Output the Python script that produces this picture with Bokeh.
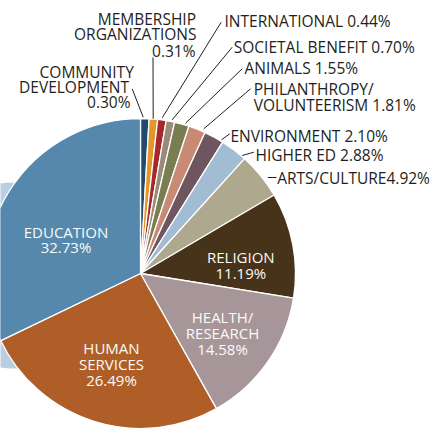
import math
from bokeh.plotting import figure
from bokeh.models import Range1d, ColumnDataSource
from bokeh.core.properties import value
from bokeh.embed import file_html
from bokeh.resources import INLINE

# ---- data (clockwise from 12 o'clock) ----
categories = ["COMMUNITY DEVELOPMENT", "MEMBERSHIP ORGANIZATIONS", "INTERNATIONAL",
              "SOCIETAL BENEFIT", "ANIMALS", "PHILANTHROPY/VOLUNTEERISM", "ENVIRONMENT",
              "HIGHER ED", "ARTS/CULTURE", "RELIGION", "HEALTH/RESEARCH",
              "HUMAN SERVICES", "EDUCATION"]
shares = [0.30, 0.31, 0.44, 0.70, 1.55, 1.81, 2.10, 2.88, 4.92, 11.19, 14.58, 26.49, 32.73]
colors = ["#1E4B6E", "#E5962A", "#A6282A", "#9A8B78", "#7A7D52", "#C88A74", "#6E5560",
          "#A2BDD3", "#ADA88E", "#47321A", "#A6969A", "#B05E27", "#5588AC"]

# ---- layout (reference pixel coords, y down) ----
W, H = 443, 430
def Y(yref):
    return H - yref

CX, CY, R = 140, Y(273), 155
MIN_SHARE = 0.9  # tiny slices are drawn with a minimum visible width

disp = [max(s, MIN_SHARE) for s in shares]
tot = sum(disp)
starts, ends = [], []
cum = 0.0
for d in disp:
    a_end = math.radians(90 - cum / tot * 360)
    cum += d
    a_start = math.radians(90 - cum / tot * 360)
    starts.append(a_start)
    ends.append(a_end)

p = figure(width=W, height=H, x_range=Range1d(0, W), y_range=Range1d(0, H),
           output_backend="svg", toolbar_location=None, min_border=0)
p.axis.visible = False
p.grid.visible = False
p.outline_line_color = None
p.background_fill_color = "white"

# decorative light blue shape behind the pie
p.circle(x=[13], y=[Y(275)], radius=93, fill_color="#B9CFE1", line_color=None)

src = ColumnDataSource(dict(start=starts, end=ends, color=colors, cat=categories))
p.wedge(x=CX, y=CY, radius=R, start_angle="start", end_angle="end",
        direction="anticlock", fill_color="color", line_color="white",
        line_width=1.3, source=src)

FONT = value("Open Sans")
DARK = "#231F20"

def pct(name):
    return f"{shares[categories.index(name)]:.2f}%"

def put(x, yc, txt, size, color, align):
    # yc is the visual centre of capitals (reference coords)
    fs = float(size.replace("px", ""))
    p.text(x=[x], y=[Y(yc + 0.357 * fs - 5.5)], text=[txt], text_font=FONT,
           text_font_size=size, text_color=color, text_align=align,
           text_baseline="alphabetic")

# inside labels
IN = "15px"
WH = "#FBFAF7"
put(65.5, 231.5, "EDUCATION", IN, WH, "center")
put(65.5, 246.7, pct("EDUCATION"), IN, WH, "center")
put(111, 347.2, "HUMAN", IN, WH, "center")
put(111, 363.8, "SERVICES", IN, WH, "center")
put(111, 379.5, pct("HUMAN SERVICES"), IN, WH, "center")
put(222, 316.7, "HEALTH/", IN, WH, "center")
put(222, 332.7, "RESEARCH", IN, WH, "center")
put(222, 348.3, pct("HEALTH/RESEARCH"), IN, WH, "center")
put(240.3, 256.7, "RELIGION", IN, WH, "center")
put(240.3, 272.7, pct("RELIGION"), IN, WH, "center")

# outside labels
OUT = "15.5px"
put(195.5, 18.3, "MEMBERSHIP", OUT, DARK, "right")
put(196, 33.3, "ORGANIZATIONS", OUT, DARK, "right")
put(195, 50, pct("MEMBERSHIP ORGANIZATIONS"), OUT, DARK, "right")
put(133.3, 71, "COMMUNITY", OUT, DARK, "right")
put(128.5, 86.7, "DEVELOPMENT", OUT, DARK, "right")
put(130, 101.7, pct("COMMUNITY DEVELOPMENT"), OUT, DARK, "right")
put(224, 20.7, "INTERNATIONAL " + pct("INTERNATIONAL"), OUT, DARK, "left")
put(233.3, 46, "SOCIETAL BENEFIT " + pct("SOCIETAL BENEFIT"), OUT, DARK, "left")
put(244, 67.7, "ANIMALS " + pct("ANIMALS"), OUT, DARK, "left")
put(253.3, 88.3, "PHILANTHROPY/", OUT, DARK, "left")
put(253.3, 104, "VOLUNTEERISM " + pct("PHILANTHROPY/VOLUNTEERISM"), OUT, DARK, "left")
put(230, 135, "ENVIRONMENT " + pct("ENVIRONMENT"), OUT, DARK, "left")
put(255, 154, "HIGHER ED " + pct("HIGHER ED"), OUT, DARK, "left")
put(276.7, 177.7, "ARTS/CULTURE" + pct("ARTS/CULTURE"), OUT, DARK, "left")

# leader lines (outer end, inner end) in reference coords
leaders = [((131.7, 88.3), (142.7, 116.7)),
           ((152.5, 57.0), (152.7, 118.3)),
           ((220.7, 21.7), (161.7, 117.3)),
           ((231.7, 46.7), (171.7, 119.3)),
           ((241.7, 68.3), (185.0, 122.7)),
           ((250.0, 88.3), (203.3, 128.3)),
           ((229.3, 133.3), (221.0, 139.3)),
           ((253.3, 151.7), (241.7, 155.0)),
           ((276.0, 177.0), (267.3, 177.0))]
p.segment(x0=[a[0] for a, b in leaders], y0=[Y(a[1]) for a, b in leaders],
          x1=[b[0] for a, b in leaders], y1=[Y(b[1]) for a, b in leaders],
          line_color=DARK, line_width=1)

open("out.html", "w").write(file_html(p, INLINE))
